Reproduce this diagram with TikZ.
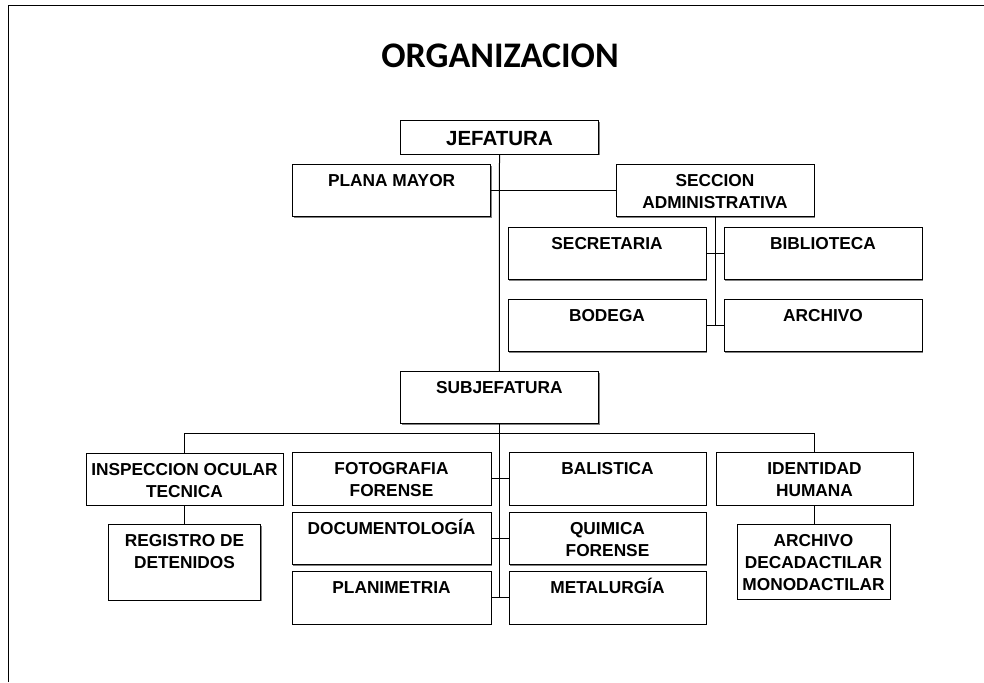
\documentclass[tikz,border=0pt]{standalone}
\usepackage{fontspec}
\setmainfont{Liberation Sans}
\newfontfamily\titlefont{Carlito}
\usetikzlibrary{shadows}
% #1 name, #2 x1, #3 y1, #4 x2, #5 y2, #6 number of text lines, #7 text
\newcommand{\orgbox}[7]{%
  \node[bx, minimum width={(#4-#2)*1pt}, minimum height={(#5-#3)*1pt}] (#1) at ({(#2+#4)/2},{(#3+#5)/2}) {};
  \node[lbl] (#1t) at ({(#2+#4)/2},{#3+22.2+22*(#6-1)}) {#7};
}
\begin{document}
\begin{tikzpicture}[x=1pt,y=-1pt,
  bx/.style={draw=black, line width=1pt, fill=white, rectangle, inner sep=0pt, outer sep=0pt,
    drop shadow={shadow xshift=1.3pt, shadow yshift=-1.3pt, fill=black!55, opacity=0.9}},
  lbl/.style={anchor=base, align=center, inner sep=0pt, font=\fontsize{17.3}{22}\selectfont\bfseries},
  conn/.style={draw=black, line width=1pt}]
\useasboundingbox (0,0) rectangle (984,682);
% frame
\coordinate (fbl) at (8.5,682);
\coordinate (ftl) at (8.5,5.5);
\coordinate (ftr) at (984,5.5);
\draw[line width=1.8pt] (fbl) -- (ftl) -- (ftr);
% title
\node[anchor=base, inner sep=0pt, font=\titlefont\fontsize{36}{40}\selectfont\bfseries] (title) at (500,67.3) {ORGANIZACION};
% boxes
\orgbox{jef}{400.5}{120.5}{598.5}{154}{1}{}
\node[inner sep=0pt, font=\fontsize{20.5}{24}\selectfont\bfseries, anchor=base] (jeft) at (499.5,145) {JEFATURA};
\orgbox{plana}{292.5}{164.3}{490.7}{216.7}{1}{PLANA MAYOR}
\orgbox{secc}{616}{164.3}{814}{216.7}{2}{SECCION\\ADMINISTRATIVA}
\orgbox{secr}{508}{227.3}{706}{279.3}{1}{SECRETARIA}
\orgbox{bibl}{724}{227.3}{922}{279.3}{1}{BIBLIOTECA}
\orgbox{bode}{508}{299.3}{706}{351.7}{1}{BODEGA}
\orgbox{arch}{724}{299.3}{922}{351.7}{1}{ARCHIVO}
\orgbox{subj}{400.3}{371.7}{598.3}{423.3}{1}{SUBJEFATURA}
\orgbox{insp}{86}{453}{283}{505}{2}{INSPECCION OCULAR\\TECNICA}
\orgbox{regi}{108.3}{524.7}{260.7}{600}{2}{REGISTRO DE\\DETENIDOS}
\orgbox{foto}{292}{452.5}{491}{505}{2}{FOTOGRAFIA\\FORENSE}
\orgbox{docu}{292}{512}{491}{564.3}{1}{DOCUMENTOLOGÍA}
\orgbox{plan}{292}{571.5}{491}{624}{1}{PLANIMETRIA}
\orgbox{bali}{509}{452.5}{706}{505}{1}{BALISTICA}
\orgbox{quim}{509}{512}{706}{564.3}{2}{QUIMICA\\FORENSE}
\orgbox{meta}{509}{571.5}{706}{624}{1}{METALURGÍA}
\orgbox{iden}{716}{452.5}{913}{505}{2}{IDENTIDAD\\HUMANA}
\orgbox{arcd}{737}{524.7}{890}{599}{3}{ARCHIVO\\DECADACTILAR\\MONODACTILAR}
% connectors
\coordinate (barl) at (184.5,433.3);
\draw[conn] (jef.south) -- (subj.north);
\draw[conn] (plana.east) -- (secc.west);
\draw[conn] (secc.south) -- (secc.south |- bode.east);
\draw[conn] (secr.east) -- (bibl.west);
\draw[conn] (bode.east) -- (arch.west);
\draw[conn] (subj.south) -- (subj.south |- plan.east);
\draw[conn] (insp.north) -- (insp.north |- barl) -- (iden.north |- barl) -- (iden.north);
\draw[conn] (insp.south) -- (insp.south |- regi.north);
\draw[conn] (iden.south) -- (iden.south |- arcd.north);
\draw[conn] (foto.east) -- (bali.west);
\draw[conn] (docu.east) -- (quim.west);
\draw[conn] (plan.east) -- (meta.west);
\end{tikzpicture}
\end{document}
